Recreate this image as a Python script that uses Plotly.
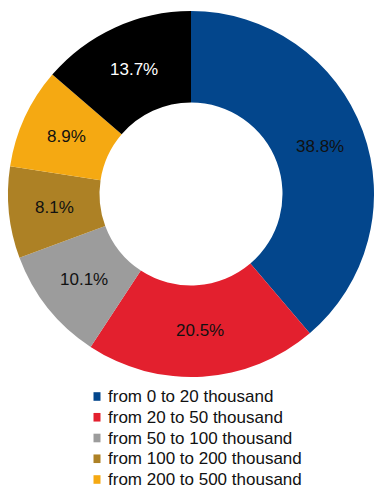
import math
import plotly.graph_objects as go

# Share of accounts by balance band (percent)
bands = [
    "from 0 to 20 thousand",
    "from 20 to 50 thousand",
    "from 50 to 100 thousand",
    "from 100 to 200 thousand",
    "from 200 to 500 thousand",
    "over 500 thousand",
]
shares = [38.8, 20.5, 10.1, 8.1, 8.9, 13.7]
colors = ["#03468C", "#E3202E", "#9C9C9C", "#AD8125", "#F5A912", "#000000"]
label_colors = ["#111111", "#111111", "#111111", "#111111", "#111111", "#FFFFFF"]

W, H = 374, 488
FONT = "Liberation Sans, Arial, sans-serif"

# donut geometry in pixels
cx, cy, r = 191, 194, 183
hole = 0.5


def px_x(x):
    return x / W


def px_y(y):
    return 1 - y / H


fig = go.Figure(
    go.Pie(
        labels=bands,
        values=shares,
        marker=dict(colors=colors, line=dict(width=0)),
        hole=hole,
        sort=False,
        direction="clockwise",
        rotation=0,
        textinfo="none",
        hoverinfo="label+percent",
        showlegend=False,
        domain=dict(
            x=[px_x(cx - r), px_x(cx + r)],
            y=[px_y(cy + r), px_y(cy - r)],
        ),
    )
)

annotations, shapes = [], []

# value labels centred in the ring at each slice's mid-angle
total = sum(shares)
ring_mid = r * (1 + hole) / 2
cum = 0.0
for val, tcol in zip(shares, label_colors):
    theta = 2 * math.pi * (cum + val / 2) / total  # clockwise from 12 o'clock
    cum += val
    annotations.append(
        dict(
            text=f"{val:.1f}%",
            xref="paper",
            yref="paper",
            x=px_x(cx + ring_mid * math.sin(theta)),
            y=px_y(cy - ring_mid * math.cos(theta)),
            xanchor="center",
            yanchor="middle",
            showarrow=False,
            font=dict(family=FONT, size=17, color=tcol),
        )
    )

# legend below the donut: a swatch and a label per band,
# rows that would start past the bottom of the page are left out
row0, row_step = 396.5, 20.75
for i, (name, col) in enumerate(zip(bands, colors)):
    yc = row0 + i * row_step
    if yc + 8 > H:
        break
    shapes.append(
        dict(
            type="rect",
            xref="paper",
            yref="paper",
            x0=px_x(93.5),
            x1=px_x(100.5),
            y0=px_y(yc + 4.3),
            y1=px_y(yc - 4.3),
            fillcolor=col,
            line=dict(width=0),
        )
    )
    annotations.append(
        dict(
            text=name,
            xref="paper",
            yref="paper",
            x=px_x(106),
            y=px_y(yc),
            xanchor="left",
            yanchor="middle",
            showarrow=False,
            font=dict(family=FONT, size=17, color="#111111"),
        )
    )

fig.update_layout(
    width=W,
    height=H,
    margin=dict(l=0, r=0, t=0, b=0, autoexpand=False),
    paper_bgcolor="white",
    plot_bgcolor="white",
    font=dict(family=FONT, size=17, color="#111111"),
    shapes=shapes,
    annotations=annotations,
)

fig.write_html("out.html")
